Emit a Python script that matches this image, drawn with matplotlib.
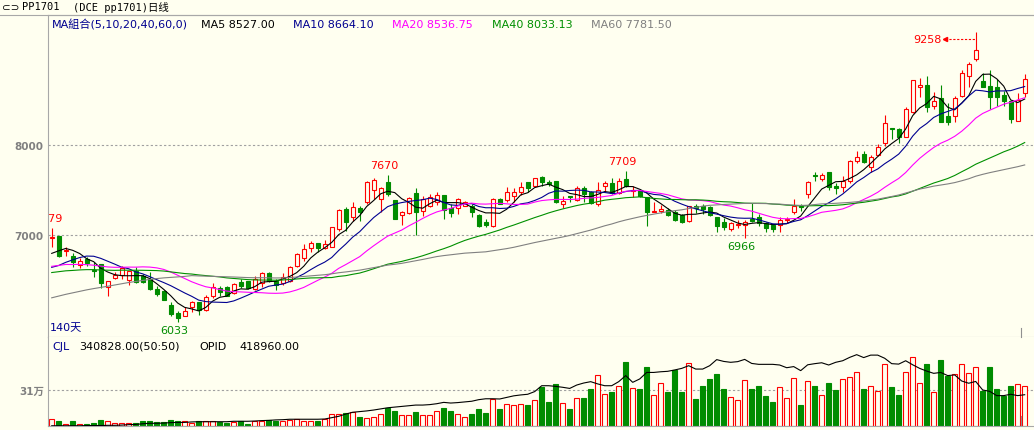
import numpy as np
import pandas as pd
import matplotlib
matplotlib.use("Agg")
import matplotlib.pyplot as plt
from matplotlib.lines import Line2D
from matplotlib.transforms import offset_copy

plt.rcParams["font.family"] = ["DejaVu Sans", "Noto Sans CJK SC"]

# daily bars of PP1701, 140 days (prices)
open_ = [6970, 6985, 6826, 6770, 6670, 6733, 6607, 6678, 6418, 6522,
         6559, 6504, 6604, 6541, 6511, 6400, 6382, 6222, 6133, 6104,
         6196, 6252, 6170, 6319, 6407, 6419, 6356, 6481, 6493, 6400,
         6463, 6578, 6493, 6463, 6493, 6652, 6741, 6859, 6907, 6856,
         6870, 7067, 7289, 7204, 7296, 7363, 7504, 7400, 7585, 7389,
         7222, 7244, 7467, 7270, 7326, 7370, 7448, 7296, 7296, 7326,
         7326, 7222, 7148, 7104, 7400, 7393, 7430, 7474, 7585, 7548,
         7641, 7593, 7596, 7344, 7430, 7393, 7519, 7481, 7344, 7541,
         7578, 7467, 7622, 7489, 7504, 7419, 7259, 7270, 7281, 7259,
         7222, 7159, 7326, 7319, 7307, 7196, 7141, 7067, 7111, 7111,
         7178, 7196, 7133, 7111, 7111, 7167, 7259, 7326, 7456, 7667,
         7622, 7696, 7548, 7530, 7604, 7826, 7900, 7759, 7889, 8019,
         8185, 8178, 8093, 8363, 8641, 8667, 8430, 8522, 8326, 8319,
         8541, 8770, 8956, 8707, 8659, 8648, 8559, 8485, 8263, 8574]
high = [7079, 6990, 6863, 6800, 6741, 6759, 6696, 6678, 6485, 6585,
        6652, 6604, 6641, 6567, 6585, 6430, 6389, 6252, 6159, 6196,
        6270, 6259, 6333, 6467, 6437, 6437, 6467, 6511, 6493, 6548,
        6585, 6585, 6511, 6574, 6659, 6796, 6900, 6937, 6907, 6948,
        7085, 7289, 7307, 7370, 7326, 7604, 7630, 7530, 7670, 7389,
        7270, 7419, 7519, 7437, 7456, 7481, 7448, 7344, 7407, 7381,
        7344, 7233, 7178, 7407, 7407, 7530, 7519, 7585, 7593, 7630,
        7660, 7615, 7596, 7437, 7430, 7541, 7541, 7493, 7585, 7604,
        7630, 7630, 7709, 7541, 7511, 7426, 7370, 7333, 7296, 7281,
        7233, 7326, 7344, 7344, 7326, 7196, 7185, 7148, 7170, 7170,
        7356, 7233, 7141, 7119, 7196, 7196, 7400, 7344, 7604, 7696,
        7685, 7696, 7574, 7659, 7833, 7937, 7937, 7893, 8011, 8337,
        8185, 8189, 8426, 8722, 8744, 8770, 8585, 8670, 8467, 8548,
        8833, 8919, 9258, 8796, 8833, 8733, 8604, 8500, 8574, 8789]
low = [6863, 6752, 6770, 6641, 6633, 6659, 6530, 6407, 6319, 6511,
       6511, 6444, 6467, 6467, 6393, 6319, 6281, 6096, 6033, 6096,
       6148, 6111, 6159, 6296, 6319, 6319, 6344, 6407, 6400, 6389,
       6426, 6474, 6393, 6444, 6474, 6641, 6715, 6807, 6807, 6844,
       6863, 7048, 7048, 7159, 7159, 7344, 7400, 7259, 7437, 7178,
       7111, 7233, 7000, 7215, 7307, 7333, 7178, 7196, 7233, 7319,
       7196, 7085, 7085, 7093, 7344, 7363, 7370, 7444, 7474, 7541,
       7541, 7541, 7356, 7296, 7370, 7381, 7363, 7344, 7326, 7481,
       7456, 7456, 7530, 7419, 7419, 7104, 7259, 7244, 7215, 7159,
       7133, 7148, 7244, 7233, 7215, 7037, 7056, 7048, 7074, 6966,
       7148, 7104, 7030, 7030, 7037, 7133, 7233, 7270, 7411, 7604,
       7604, 7504, 7456, 7474, 7574, 7796, 7796, 7696, 7881, 7993,
       8067, 8019, 8085, 8352, 8537, 8363, 8400, 8252, 8226, 8259,
       8530, 8648, 8930, 8641, 8400, 8437, 8437, 8241, 8263, 8537]
close = [6975, 6763, 6830, 6696, 6707, 6685, 6600, 6467, 6485, 6559,
         6630, 6596, 6474, 6482, 6400, 6344, 6281, 6122, 6074, 6159,
         6259, 6170, 6315, 6426, 6370, 6326, 6456, 6430, 6407, 6511,
         6574, 6493, 6444, 6537, 6648, 6789, 6844, 6907, 6856, 6896,
         7085, 7278, 7148, 7315, 7252, 7593, 7611, 7519, 7456, 7178,
         7252, 7407, 7252, 7400, 7426, 7448, 7281, 7244, 7400, 7370,
         7252, 7096, 7111, 7400, 7344, 7481, 7474, 7530, 7519, 7630,
         7585, 7563, 7363, 7381, 7419, 7519, 7456, 7356, 7504, 7578,
         7467, 7604, 7541, 7500, 7430, 7259, 7270, 7289, 7222, 7170,
         7148, 7319, 7296, 7289, 7222, 7096, 7093, 7133, 7122, 7141,
         7159, 7133, 7078, 7067, 7170, 7178, 7326, 7315, 7585, 7656,
         7670, 7530, 7519, 7604, 7819, 7870, 7815, 7870, 7981, 8241,
         8174, 8093, 8400, 8722, 8667, 8419, 8493, 8259, 8259, 8522,
         8796, 8900, 9056, 8648, 8537, 8537, 8493, 8289, 8500, 8733]

# closes before the visible window, only used to start the moving averages
history_close = [5620, 5660, 5700, 5680, 5720, 5750, 5710, 5690, 5740, 5780,
                 5760, 5800, 5770, 5740, 5790, 5810, 5760, 5780, 5820, 5740,
                 6380, 6450, 6520, 6480, 6560, 6600, 6640, 6580, 6610, 6550,
                 6600, 6520, 6480, 6460, 6420, 6480, 6500, 6450, 6520, 6480,
                 6560, 6620, 6700, 6680, 6750, 6720, 6650, 6690, 6640, 6620,
                 6560, 6480, 6420, 6450, 6520,
                 6620, 6700, 6800, 6885]

# volume (CJL) and open interest (OPID), in thousands of lots
volume_k = [58, 43, 14, 35, 17, 17, 23, 52, 40, 26,
            20, 23, 26, 35, 35, 32, 32, 52, 43, 35,
            26, 35, 40, 40, 29, 26, 29, 38, 17, 35,
            35, 46, 35, 43, 52, 58, 43, 35, 38, 58,
            104, 98, 110, 116, 78, 69, 78, 104, 156, 122,
            93, 93, 113, 93, 87, 122, 156, 122, 101, 78,
            96, 139, 107, 226, 139, 188, 182, 191, 174, 223,
            330, 200, 356, 197, 139, 240, 243, 313, 440, 275,
            295, 344, 547, 327, 321, 512, 266, 370, 295, 478,
            287, 544, 234, 339, 408, 443, 313, 249, 223, 396,
            321, 339, 260, 200, 336, 240, 414, 182, 388, 347,
            266, 365, 304, 405, 423, 466, 321, 344, 301, 538,
            330, 269, 466, 596, 365, 538, 287, 573, 434, 451,
            538, 460, 509, 298, 512, 313, 255, 347, 356, 340.8]
opid_k = [281, 281, 281, 281, 281, 282, 282, 282, 283, 283,
          284, 286, 287, 290, 292, 292, 293, 295, 296, 296,
          298, 299, 299, 299, 299, 299, 301, 301, 301, 302,
          304, 305, 307, 308, 310, 310, 310, 310, 310, 311,
          317, 323, 333, 341, 344, 347, 351, 356, 361, 364,
          367, 370, 373, 373, 375, 379, 385, 382, 384, 387,
          390, 397, 401, 401, 400, 407, 414, 418, 421, 433,
          459, 459, 456, 452, 447, 462, 471, 477, 467, 459,
          459, 477, 504, 474, 489, 518, 518, 521, 523, 529,
          536, 548, 533, 533, 548, 575, 567, 563, 566, 576,
          558, 554, 554, 554, 551, 539, 544, 526, 552, 557,
          561, 551, 563, 570, 585, 597, 584, 595, 595, 581,
          557, 555, 570, 552, 536, 524, 514, 518, 504, 507,
          480, 470, 478, 440, 434, 415, 415, 421, 415, 419]

ma_periods = [5, 10, 20, 40, 60]
ma_colors = ["#000000", "#000090", "#FF00FF", "#009000", "#808080"]

# marked extremes: (bar index, "high" or "low")
marks = [(0, "high"), (18, "low"), (48, "high"), (82, "high"), (99, "low"), (132, "peak")]

W, H = 1034, 431
BG = "#FFFFF0"
RED = "#FF0000"
GREEN = "#008C00"
NAVY = "#000090"
LINE = "#A8A8A8"


def figtext(px, py, s, **kw):
    # place text by pixel position in the figure
    fig.text(px / W, 1 - py / H, s, va="center", **kw)


o = np.array(open_, dtype=float)
h = np.array(high, dtype=float)
l = np.array(low, dtype=float)
c = np.array(close, dtype=float)
x = np.arange(len(c))
up = c >= o
edge = np.where(up, RED, GREEN)
face = np.where(up, BG, GREEN)

all_close = pd.Series(history_close + close, dtype=float)
ma = {n: all_close.rolling(n).mean().to_numpy()[-len(c):] for n in ma_periods}

fig = plt.figure(figsize=(W / 100, H / 100), dpi=100, facecolor=BG)

# price panel
ax = fig.add_axes([48 / W, 1 - 338 / H, (W - 48) / W, (338 - 16) / H], facecolor=BG)
ax.set_xlim(-0.53, 140.33)
ax.set_ylim(5867, 9444)
ax.vlines(x, l, h, colors=edge, lw=0.8, zorder=2)
ax.bar(x, np.abs(c - o), bottom=np.minimum(o, c), width=0.62,
       color=face, edgecolor=edge, linewidth=0.8, zorder=3)
for n, col in zip(ma_periods, ma_colors):
    ax.plot(x, ma[n], color=col, lw=0.8, zorder=4)

ax.set_yticks([7000, 8000])
ax.set_yticklabels(["7000", "8000"], fontsize=7.5, fontweight="bold", color="#808080")
ax.tick_params(axis="y", length=0, pad=3)
ax.set_xticks([])
ax.grid(axis="y", linestyle=(0, (2, 2)), color="#A0A0A0", lw=0.8)
for side in ["left", "top", "bottom"]:
    ax.spines[side].set_color(LINE)
    ax.spines[side].set_linewidth(0.8)
ax.spines["right"].set_visible(False)

# labels of the marked highs and lows, offsets in pixels
for i, kind in marks:
    if kind == "high":
        tr = offset_copy(ax.transData, fig, x=-3, y=10, units="dots")
        ax.text(i, h[i], f"{h[i]:.0f}", transform=tr, ha="center", va="center",
                color=RED, fontsize=8, clip_on=True)
    elif kind == "low":
        tr = offset_copy(ax.transData, fig, x=-3, y=-8, units="dots")
        ax.text(i, l[i], f"{l[i]:.0f}", transform=tr, ha="center", va="center",
                color=GREEN, fontsize=8, clip_on=True)
    else:
        tr = offset_copy(ax.transData, fig, x=0, y=-7, units="dots")
        ax.plot([i - 4.4, i], [h[i], h[i]], transform=tr, color=RED, lw=0.8,
                linestyle=(0, (2, 1.5)))
        ax.plot([i - 4.4], [h[i]], transform=tr, marker="<", markersize=3,
                color=RED)
        tr2 = offset_copy(ax.transData, fig, x=-34, y=-7, units="dots")
        ax.text(i, h[i], f"{h[i]:.0f}", transform=tr2, ha="right", va="center",
                color=RED, fontsize=8)

# volume panel
vax = fig.add_axes([48 / W, 1 - 426.5 / H, (W - 48) / W, (426.5 - 338) / H], facecolor=BG)
vax.set_xlim(-0.53, 140.33)
vax.set_ylim(0, 768400)
vol = np.array(volume_k) * 1000
vax.bar(x, vol, width=0.66, color=face, edgecolor=edge, linewidth=0.8, zorder=2)
vax.set_yticks([310000])
vax.set_yticklabels(["31万"], fontsize=7.5, fontweight="bold", color="#808080")
vax.tick_params(axis="y", length=0, pad=3)
vax.set_xticks([])
vax.grid(axis="y", linestyle=(0, (2, 2)), color="#A0A0A0", lw=0.8)
for side in ["left", "bottom"]:
    vax.spines[side].set_color(LINE)
    vax.spines[side].set_linewidth(0.8)
vax.spines["top"].set_visible(False)
vax.spines["right"].set_visible(False)

oax = vax.twinx()
oax.set_ylim(282200, 675500)
oax.plot(x, np.array(opid_k) * 1000, color="black", lw=0.8)
oax.axis("off")

# frame lines outside the axes
fig.add_artist(Line2D([0, 1], [1 - 16 / H] * 2, color=LINE, lw=0.8))
for y0, y1 in [(329, 338), (417, 426)]:
    fig.add_artist(Line2D([1021 / W] * 2, [1 - y0 / H, 1 - y1 / H], color="#909090", lw=0.8))

# title row
figtext(2, 7.5, "⊂⊃", fontsize=7.5, color="black")
figtext(22, 7.5, "PP1701", fontsize=7.5, color="black",
        family=["DejaVu Sans Mono", "Noto Sans CJK SC"])
figtext(73, 7.5, "(DCE pp1701)日线", fontsize=7.5, color="black",
        family=["DejaVu Sans Mono", "Noto Sans CJK SC"])

# moving average legend row
figtext(52, 25, "MA組合(5,10,20,40,60,0)", fontsize=8, color=NAVY)
figtext(201, 25, "MA5 8527.00", fontsize=8, color="#000000")
figtext(293, 25, "MA10 8664.10", fontsize=8, color=NAVY)
figtext(392, 25, "MA20 8536.75", fontsize=8, color="#FF00FF")
figtext(492, 25, "MA40 8033.13", fontsize=8, color="#009000")
figtext(591, 25, "MA60 7781.50", fontsize=8, color="#808080")
figtext(50, 328, "140天", fontsize=8, color=NAVY)

# volume legend row
figtext(52, 347, "CJL", fontsize=8, color=NAVY)
figtext(79, 347, "340828.00(50:50)", fontsize=8, color="black")
figtext(199, 347, "OPID", fontsize=8, color="black")
figtext(239, 347, "418960.00", fontsize=8, color="black")

fig.savefig("out.png", dpi=100, facecolor=BG)
